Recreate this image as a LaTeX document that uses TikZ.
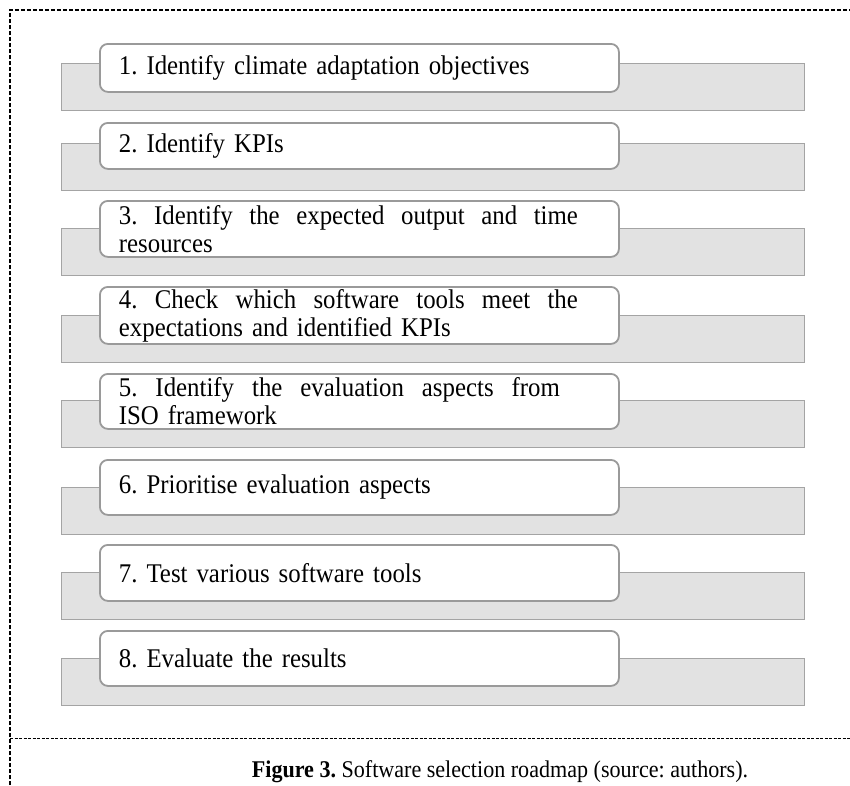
\documentclass[tikz,border=0pt]{standalone}
\usepackage{fontspec}
\setmainfont{Liberation Serif}[FakeStretch=0.92]
\usepackage{xcolor}
\usetikzlibrary{positioning}
\definecolor{barfill}{HTML}{E2E2E2}
\definecolor{barline}{HTML}{A4A4A4}
\definecolor{boxline}{HTML}{9A9A9A}
\newcommand{\fullline}[2][459pt]{\makebox[#1][s]{\spaceskip=0.23em plus 1fil\xspaceskip=\spaceskip\relax #2}}
\tikzset{
  barbox/.style={
    rectangle, draw=barline, fill=barfill, line width=1.4pt,
    minimum width=743pt, minimum height=47pt, inner sep=0pt, anchor=north west
  },
  stepbox/.style={
    rectangle, rounded corners=8pt, draw=boxline, fill=white, line width=1.8pt,
    minimum width=519pt, text width=481pt, inner xsep=19pt, inner ysep=0pt,
    align=left, anchor=north west,
    font=\fontsize{27}{28}\selectfont\frenchspacing
  },
  framedash/.style={draw=black, line width=1.2pt, dash pattern=on 4pt off 2pt},
  thindash/.style={draw=black, line width=0.8pt, dash pattern=on 3pt off 1.5pt},
}

\begin{document}
\begin{tikzpicture}[x=1pt, y=-1pt]
    \useasboundingbox (0,0) rectangle (850,785);

    % frame
    \coordinate (tl) at (10,10);
    \coordinate (tr) at (850,10);
    \coordinate (bl) at (10,785);
    \coordinate (ml) at (10,738);
    \coordinate (mr) at (850,738);
    \draw[framedash] (bl) -- (tl) -- (tr);
    \draw[thindash] (ml) -- (mr);

    % steps
    \node[barbox] (bar1) at (61,63) {};
    \node[stepbox, minimum height=48pt] (s1) at (99,43) {1. Identify climate adaptation objectives};
    \node[barbox] (bar2) at (61,143) {};
    \node[stepbox, minimum height=46pt] (s2) at (99,122) {2. Identify KPIs};
    \node[barbox] (bar3) at (61,228) {};
    \node[stepbox, minimum height=56pt] (s3) at (99,200) {\fullline{3. Identify the expected output and time}\\resources};
    \node[barbox] (bar4) at (61,315) {};
    \node[stepbox, minimum height=57pt] (s4) at (99,286) {\fullline{4. Check which software tools meet the}\\expectations and identified KPIs};
    \node[barbox] (bar5) at (61,400) {};
    \node[stepbox, minimum height=55pt] (s5) at (99,373) {\fullline[441pt]{5. Identify the evaluation aspects from}\\ISO framework};
    \node[barbox] (bar6) at (61,487) {};
    \node[stepbox, minimum height=55pt] (s6) at (99,459) {6. Prioritise evaluation aspects};
    \node[barbox] (bar7) at (61,572) {};
    \node[stepbox, minimum height=56pt] (s7) at (99,544) {7. Test various software tools};
    \node[barbox] (bar8) at (61,658) {};
    \node[stepbox, minimum height=55pt] (s8) at (99,630) {8. Evaluate the results};

    % caption
    \node[font=\fontsize{24}{26}\selectfont\frenchspacing, anchor=base] (caption) at (500,777)
      {\textbf{Figure 3.} Software selection roadmap (source: authors).};
\end{tikzpicture}
\end{document}
